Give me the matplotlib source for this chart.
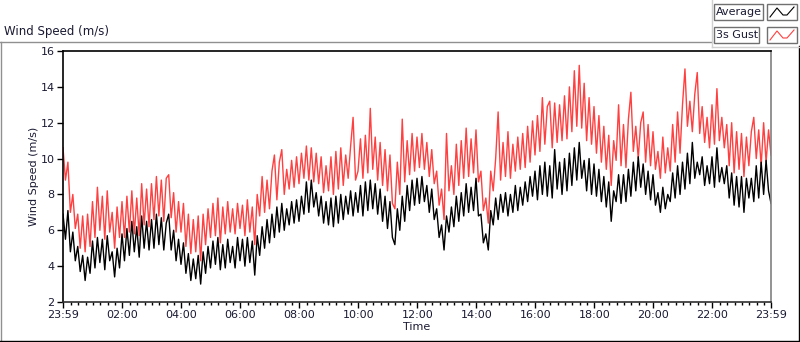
import numpy as np
import matplotlib
matplotlib.use("Agg")
import matplotlib.pyplot as plt
from matplotlib.patches import Rectangle
from matplotlib.lines import Line2D

# 5-minute samples from 23:59 to 23:59
avg_speed = [
    6.9, 5.5, 7.1, 4.8, 5.9, 4.3, 5.1, 3.7, 4.6, 3.2, 4.5, 3.6,
    5.4, 3.9, 5.6, 4.2, 5.5, 3.8, 5.7, 4.3, 4.8, 3.4, 5.0, 3.9,
    5.8, 4.3, 6.1, 4.6, 6.5, 4.8, 6.2, 4.5, 6.8, 5.0, 6.5, 4.9,
    6.6, 5.0, 6.9, 5.2, 6.7, 4.9, 6.4, 6.9, 4.9, 6.0, 4.3, 5.5,
    4.1, 5.3, 3.6, 4.7, 3.2, 4.4, 3.3, 4.6, 3.0, 4.8, 3.6, 5.1,
    3.9, 5.4, 4.1, 5.6, 3.8, 5.2, 3.9, 5.5, 4.2, 5.1, 3.9, 5.6,
    4.3, 5.5, 4.0, 5.6, 4.2, 5.4, 3.5, 5.7, 4.6, 6.2, 5.0, 6.6,
    5.3, 6.9, 5.6, 7.3, 5.9, 7.5, 6.0, 7.2, 6.3, 7.6, 6.4, 7.7,
    6.5, 7.9, 6.9, 8.7, 7.0, 8.8, 7.3, 8.1, 6.8, 7.9, 6.4, 7.6,
    6.3, 7.8, 6.2, 7.9, 6.4, 8.0, 6.6, 7.9, 6.9, 8.2, 6.8, 8.1,
    7.0, 8.5, 6.8, 8.7, 7.1, 8.8, 7.2, 8.6, 6.9, 8.3, 6.5, 7.9,
    6.1, 7.6, 5.6, 5.2, 7.2, 6.0, 7.9, 6.5, 8.5, 7.1, 8.8, 7.4,
    8.9, 7.5, 9.0, 7.6, 8.5, 7.0, 8.3, 6.6, 7.2, 5.6, 6.3, 4.9,
    6.8, 5.9, 7.3, 6.2, 7.9, 6.5, 8.1, 6.8, 8.6, 7.0, 8.4, 7.1,
    8.9, 6.8, 6.9, 5.3, 5.8, 4.9, 7.1, 6.3, 7.8, 6.6, 8.0, 7.0,
    8.1, 6.8, 8.0, 7.0, 8.5, 7.1, 8.4, 7.4, 8.7, 7.6, 9.0, 7.9,
    9.3, 7.7, 9.6, 8.0, 9.8, 7.9, 9.6, 7.8, 10.5, 8.3, 9.8, 8.0,
    10.0, 8.2, 10.3, 8.5, 10.6, 8.8, 10.9, 8.9, 9.9, 8.2, 10.0, 8.0,
    9.7, 7.9, 9.4, 7.6, 9.0, 7.3, 8.7, 6.5, 8.2, 7.6, 9.1, 7.5,
    9.1, 7.6, 9.4, 7.9, 9.8, 8.2, 10.1, 8.4, 9.7, 8.0, 9.3, 7.7,
    9.1, 7.4, 8.1, 7.0, 8.4, 7.2, 8.0, 7.6, 9.2, 7.8, 9.6, 8.0,
    9.8, 8.3, 10.3, 8.6, 10.9, 8.9, 9.8, 9.1, 10.1, 8.5, 9.6, 8.6,
    10.1, 8.4, 10.6, 8.7, 9.5, 8.6, 9.6, 7.8, 9.2, 7.4, 9.0, 7.3,
    9.0, 7.0, 8.9, 7.8, 8.9, 7.6, 9.6, 7.8, 9.8, 8.0, 9.9, 8.2,
    7.5,
]

gust_speed = [
    10.6, 8.8, 9.8, 7.0, 8.0, 6.1, 6.9, 5.0, 6.8, 4.8, 6.9, 5.1,
    7.6, 5.6, 8.4, 6.0, 7.9, 5.5, 8.2, 5.9, 7.0, 5.0, 7.3, 5.6,
    7.6, 5.6, 7.9, 5.9, 8.2, 5.8, 7.8, 5.7, 8.6, 6.3, 8.3, 6.2,
    8.6, 6.6, 9.0, 6.8, 8.8, 6.5, 8.9, 9.1, 6.7, 8.1, 5.9, 7.6,
    5.9, 7.5, 5.1, 6.9, 4.7, 6.6, 4.8, 6.8, 4.3, 6.9, 5.2, 7.2,
    5.6, 7.5, 5.7, 7.8, 5.3, 7.3, 5.8, 7.6, 5.9, 7.2, 5.8, 7.5,
    6.1, 7.4, 5.7, 7.7, 5.9, 7.3, 5.2, 8.0, 6.8, 9.0, 7.0, 8.8,
    7.2, 9.3, 10.2, 7.7, 9.8, 10.5, 8.0, 9.4, 8.3, 9.9, 8.4, 10.1,
    8.6, 10.3, 8.9, 10.7, 8.8, 10.6, 8.7, 10.3, 8.6, 10.1, 8.1, 9.6,
    8.2, 10.1, 8.0, 10.4, 8.3, 10.6, 8.5, 10.2, 8.9, 10.7, 12.3, 8.8,
    9.3, 11.1, 8.9, 11.3, 9.2, 12.8, 9.4, 11.2, 8.8, 10.9, 8.5, 10.5,
    8.2, 10.2, 7.5, 7.2, 9.8, 8.0, 12.2, 8.7, 11.0, 9.1, 11.4, 9.3,
    11.2, 9.5, 11.4, 9.4, 10.9, 9.0, 10.5, 8.6, 9.3, 7.4, 8.3, 6.6,
    11.4, 8.2, 9.6, 8.0, 10.8, 8.5, 11.0, 8.9, 11.7, 9.0, 11.1, 9.2,
    11.6, 8.7, 9.3, 7.1, 7.8, 6.4, 9.3, 8.2, 10.0, 12.6, 8.8, 10.9,
    9.0, 11.5, 8.9, 10.8, 9.3, 11.2, 9.4, 11.4, 9.5, 11.8, 9.8, 12.1,
    10.2, 12.4, 10.4, 13.4, 10.8, 12.9, 13.2, 10.6, 13.1, 10.9, 13.0, 11.0,
    13.5, 11.1, 14.0, 11.5, 14.9, 11.8, 15.2, 11.7, 14.2, 11.0, 13.4, 10.8,
    12.9, 10.3, 12.4, 9.8, 11.8, 9.4, 11.3, 8.5, 11.0, 9.9, 13.0, 9.6,
    11.9, 9.5, 12.2, 13.7, 10.4, 11.8, 10.0, 12.0, 12.6, 9.8, 11.9, 9.6,
    11.5, 9.4, 10.4, 8.9, 11.2, 9.2, 10.6, 9.3, 11.9, 9.8, 12.6, 10.3,
    13.0, 15.0, 11.8, 13.2, 11.5, 13.6, 14.8, 11.4, 12.9, 10.9, 12.3, 10.6,
    13.0, 10.8, 13.9, 11.0, 12.3, 10.6, 11.9, 9.6, 12.0, 9.2, 11.5, 9.4,
    11.4, 9.0, 11.2, 9.6, 11.5, 12.3, 10.0, 11.6, 9.6, 12.0, 9.8, 11.6,
    10.2,
]

tick_labels = ["23:59", "02:00", "04:00", "06:00", "08:00", "10:00", "12:00",
               "14:00", "16:00", "18:00", "20:00", "22:00", "23:59"]
y_ticks = [2, 4, 6, 8, 10, 12, 14, 16]

minutes = np.arange(len(avg_speed)) * 5  # minutes since 23:59

W, H = 800, 342
fig = plt.figure(figsize=(W / 100, H / 100), dpi=100)
fig.patch.set_facecolor("white")
txt_color = "#1a1a33"
font = "DejaVu Sans"

ax = fig.add_axes([63 / W, (H - 302) / H, (771 - 63) / W, (302 - 51) / H])
ax.plot(minutes, gust_speed, color="#ff4040", lw=1.0)
ax.plot(minutes, avg_speed, color="black", lw=1.0)

ax.set_xlim(0, 24 * 60)
ax.set_ylim(2, 16)
major = [0] + [121 + 120 * k for k in range(11)] + [24 * 60]
ax.set_xticks(major)
ax.set_xticklabels(tick_labels, fontsize=8, color=txt_color, family=font)
ax.set_xticks(np.arange(16, 24 * 60, 15), minor=True)
ax.set_yticks(y_ticks)
ax.set_yticklabels([str(v) for v in y_ticks], fontsize=8, color=txt_color, family=font)
ax.tick_params(axis="both", which="major", length=4, width=1, color="black", pad=2)
ax.tick_params(axis="x", which="minor", length=2.5, width=1, color="black")
ax.set_xlabel("Time", fontsize=8, color=txt_color, family=font, labelpad=1)
ax.set_ylabel("Wind Speed (m/s)", fontsize=8, color=txt_color, family=font, labelpad=1)

ax.spines["left"].set_color("black")
ax.spines["top"].set_color("black")
ax.spines["right"].set_color("#808080")
ax.spines["bottom"].set_color("#303030")
for s in ax.spines.values():
    s.set_linewidth(1.2)

# outer panel frame
def fx(px):
    return px / W

def fy(py):
    return 1 - py / H

fig.add_artist(Line2D([fx(0), fx(712)], [fy(42), fy(42)], color="#909090", lw=1))
fig.add_artist(Line2D([fx(0.5), fx(0.5)], [fy(42), fy(341)], color="#909090", lw=1))
fig.add_artist(Line2D([fx(0), fx(800)], [fy(340.5), fy(340.5)], color="black", lw=1))
fig.add_artist(Line2D([fx(799), fx(799)], [fy(46), fy(341)], color="black", lw=1))
fig.add_artist(Line2D([fx(712), fx(712)], [fy(0), fy(47)], color="#d0d0d0", lw=1))
fig.add_artist(Line2D([fx(712), fx(800)], [fy(47), fy(47)], color="#d0d0d0", lw=1))

fig.text(fx(4), fy(31), "Wind Speed (m/s)", fontsize=8.5, color=txt_color,
         family=font, va="center", ha="left")

# legend (LabVIEW style plot legend)
legend_items = [("Average", "black", 4, 49), ("3s Gust", "#ff4040", 27, 45)]
for label, col, top, bw in legend_items:
    fig.add_artist(Rectangle((fx(714), fy(top + 16)), fx(bw), 16 / H,
                             facecolor="white", edgecolor="#707070", lw=1))
    fig.text(fx(716), fy(top + 8), label, fontsize=8, color=txt_color,
             family=font, va="center", ha="left")
    fig.add_artist(Rectangle((fx(767), fy(top + 16)), fx(30), 16 / H,
                             facecolor="white", edgecolor="#707070", lw=1))
    zx = [770, 777, 783, 787, 794]
    zy = [top + 13, top + 4, top + 11, top + 11, top + 3]
    fig.add_artist(Line2D([fx(v) for v in zx], [fy(v) for v in zy], color=col, lw=0.8))

fig.savefig("out.png", dpi=100, facecolor="white")
